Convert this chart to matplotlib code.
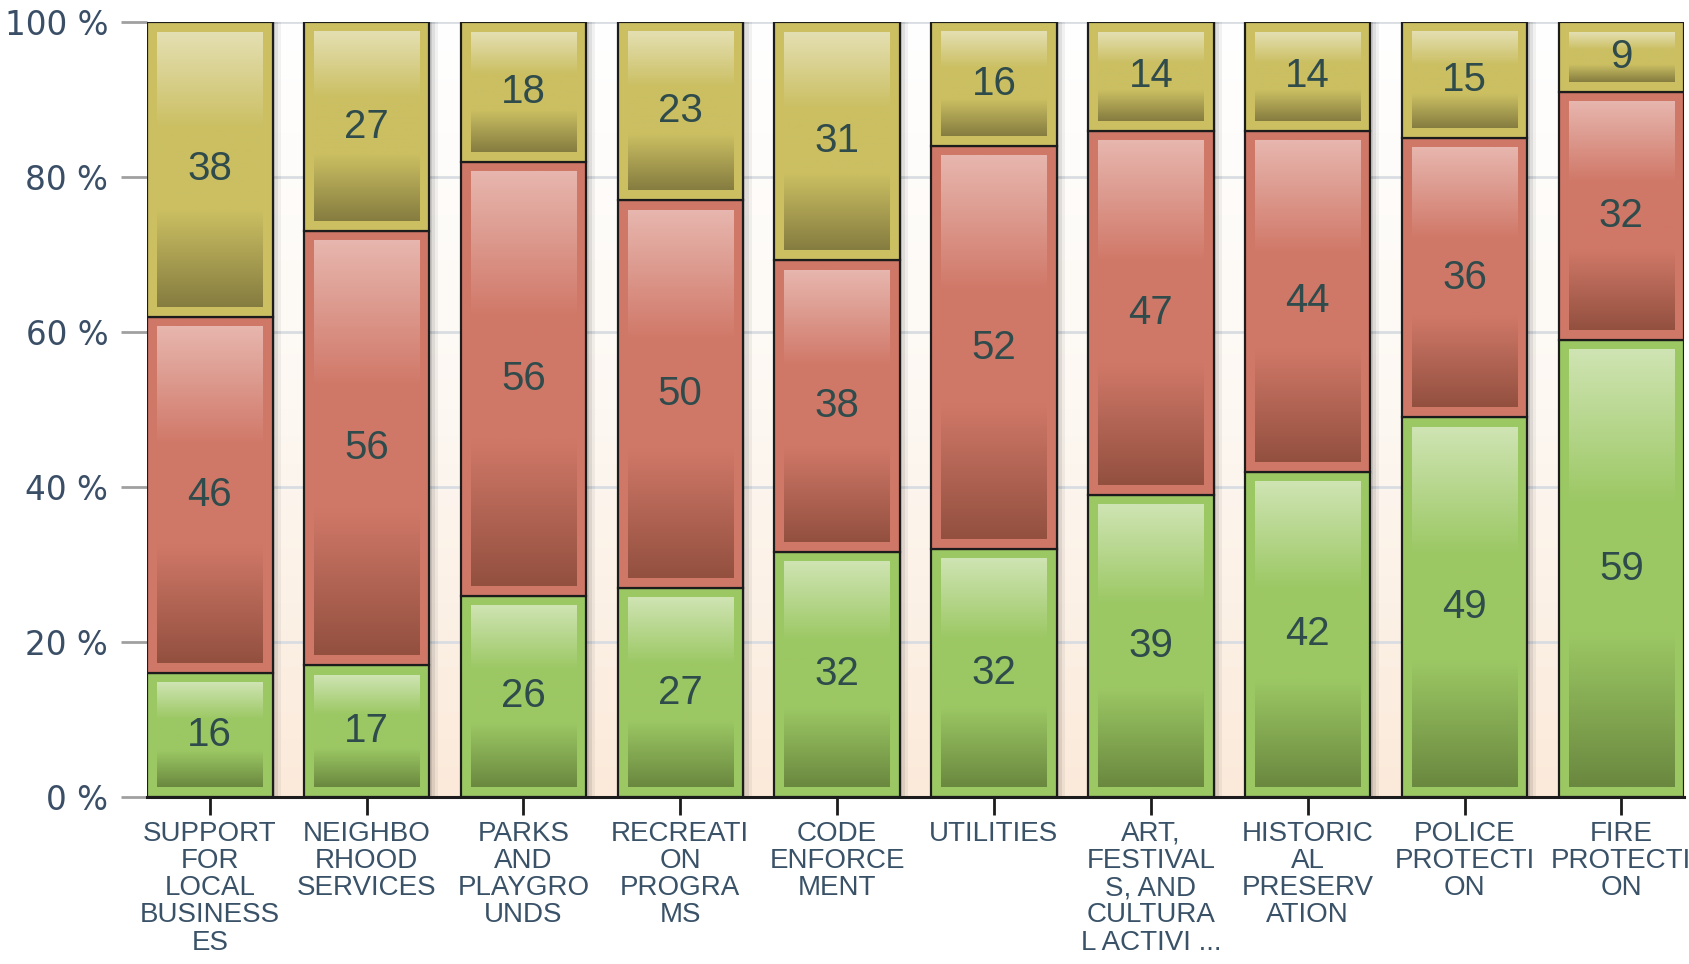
import numpy as np
import matplotlib
matplotlib.use("Agg")
import matplotlib.pyplot as plt
from matplotlib.colors import LinearSegmentedColormap

# Datos del gráfico
categorias = [
    "SUPPORT\nFOR\nLOCAL\nBUSINESS\nES",
    "NEIGHBO\nRHOOD\nSERVICES",
    "PARKS\nAND\nPLAYGRO\nUNDS",
    "RECREATI\nON\nPROGRA\nMS",
    "CODE\nENFORCE\nMENT",
    "UTILITIES",
    "ART,\nFESTIVAL\nS, AND\nCULTURA\nL ACTIVI ...",
    "HISTORIC\nAL\nPRESERV\nATION",
    "POLICE\nPROTECTI\nON",
    "FIRE\nPROTECTI\nON",
]
verde = [16, 17, 26, 27, 32, 32, 39, 42, 49, 59]
rojo = [46, 56, 56, 50, 38, 52, 47, 44, 36, 32]
amarillo = [38, 27, 18, 23, 31, 16, 14, 14, 15, 9]
yticks = [0, 20, 40, 60, 80, 100]
ytick_labels = ["0 %", "20 %", "40 %", "60 %", "80 %", "100 %"]

# colores: (borde/base, claro, oscuro)
colores = [
    ("#9cc864", "#cfe4b3", "#6a883f"),
    ("#d07868", "#e7b6ae", "#93503f"),
    ("#cbbf62", "#e4dfb2", "#857c40"),
]

fig = plt.figure(figsize=(16.9, 9.64), dpi=100)
ax = fig.add_axes([0.087, 0.173, 0.9095, 0.804])

ancho = 0.8
x = np.arange(len(categorias))
series = [verde, rojo, amarillo]
totales = np.sum(series, axis=0)

# fondo degradado
fondo = LinearSegmentedColormap.from_list("fondo", ["#fbeada", "#fdf8f2", "#ffffff"])
ax.imshow(np.linspace(0, 1, 256).reshape(-1, 1), cmap=fondo, aspect="auto",
          extent=[0, 1, 0, 1], transform=ax.transAxes, origin="lower", zorder=0)

# rejilla
for t in yticks[1:]:
    ax.axhline(t, color="#d9dde2", lw=2, zorder=1)

# sombras
for k, off in enumerate([0.015, 0.035, 0.055]):
    ax.bar(x + off, 100, width=ancho, color="black", alpha=0.10 - 0.025 * k, zorder=2, lw=0)

dx = 10 / 156.8
dy = 10 / 7.75
grad = np.linspace(0, 1, 256).reshape(-1, 1)
base = np.zeros(len(categorias))
for vals, (c, claro, oscuro) in zip(series, colores):
    alto = np.array(vals) / totales * 100
    ax.bar(x, alto, width=ancho, bottom=base, color=c, edgecolor="#1c1c1c", lw=1.6, zorder=3)
    cmap = LinearSegmentedColormap.from_list(
        "g", [(0, oscuro), (0.35, c), (0.65, c), (1, claro)])
    for i in range(len(x)):
        ax.imshow(grad, cmap=cmap, aspect="auto", origin="lower", zorder=4,
                  extent=[x[i] - ancho / 2 + dx, x[i] + ancho / 2 - dx,
                          base[i] + dy, base[i] + alto[i] - dy])
        ax.text(x[i], base[i] + alto[i] / 2, str(vals[i]), ha="center", va="center",
                fontsize=29, color="#2f4b4b", family="Liberation Sans", zorder=5)
    base = base + alto

ax.set_xlim(-0.4, 9.4)
ax.set_ylim(0, 100)
ax.set_yticks(yticks)
ax.set_yticklabels(ytick_labels, fontsize=23.5, color="#3a4e66", family="DejaVu Sans")
ax.set_xticks(x)
ax.set_xticklabels(categorias, fontsize=20, color="#3a5268", family="Liberation Sans",
                   linespacing=1.06, va="top")
ax.tick_params(axis="y", length=19, width=2, color="#a0a0a0", pad=9)
ax.tick_params(axis="x", length=13, width=2, color="#1c1c1c", pad=4)
for s in ["top", "right", "left"]:
    ax.spines[s].set_visible(False)
ax.spines["bottom"].set_linewidth(2.2)
ax.spines["bottom"].set_color("#1c1c1c")
ax.spines["bottom"].set_zorder(6)

fig.savefig("out.png", dpi=100)
